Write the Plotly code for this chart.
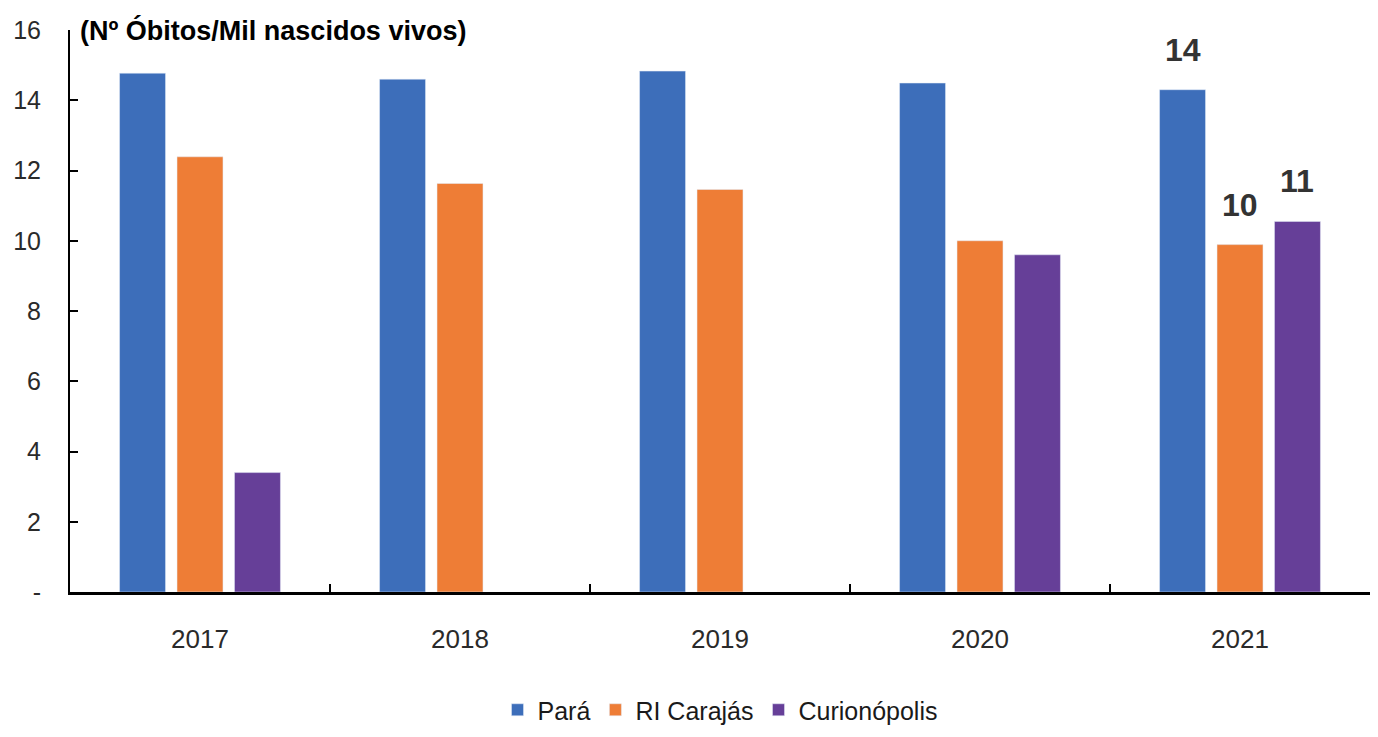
import plotly.graph_objects as go

anos = ["2017", "2018", "2019", "2020", "2021"]
para = [14.77, 14.6, 14.83, 14.49, 14.3]
carajas = [12.39, 11.63, 11.46, 10.0, 9.89]
curionopolis = [3.4, None, None, 9.6, 10.55]

cores = {"Pará": "#3D6EBA", "RI Carajás": "#EE7D36", "Curionópolis": "#663F98"}
series = [("Pará", para), ("RI Carajás", carajas), ("Curionópolis", curionopolis)]
bargap = 0.337

fig = go.Figure()
for nome, vals in series:
    fig.add_trace(go.Bar(x=anos, y=vals, name=nome, marker_color=cores[nome]))

# rótulos só no último ano (2021), acima de cada barra do grupo
slot = (1 - bargap) / len(series)
ult = len(anos) - 1
for k, (nome, vals) in enumerate(series):
    fig.add_annotation(
        x=ult + (k - 1) * slot, y=vals[ult], xref="x", yref="y",
        text=f"<b>{vals[ult]:.0f}</b>", showarrow=False,
        yanchor="bottom", yshift=20,
        font=dict(family="Liberation Sans, Arial, sans-serif", size=32, color="#333333"),
    )

fig.add_annotation(
    text="<b>(Nº Óbitos/Mil nascidos vivos)</b>", xref="paper", yref="paper",
    x=0.006, y=1.0, xanchor="left", yanchor="middle", showarrow=False,
    font=dict(family="Liberation Sans Narrow, Arial Narrow, sans-serif", size=27, color="black"),
)

fig.update_layout(
    width=1378, height=737,
    margin=dict(l=62, r=16, t=22, b=139),
    plot_bgcolor="white", paper_bgcolor="white",
    barmode="group", bargap=bargap, bargroupgap=0.2,
    font=dict(family="Liberation Sans, Arial, sans-serif", size=22, color="#2a2a2a"),
    legend=dict(orientation="h", x=0.5, xanchor="center", y=-0.21, yanchor="middle",
                font=dict(size=25, color="#1a1a1a"), itemwidth=30, traceorder="normal"),
    showlegend=True,
)
fig.update_xaxes(
    showline=True, linecolor="black", linewidth=3, tickson="boundaries",
    ticks="inside", ticklen=8, tickwidth=2, tickcolor="black",
    ticklabelstandoff=22, showgrid=False, automargin=False,
    tickfont=dict(size=26, color="#2a2a2a"),
)
fig.update_yaxes(
    range=[0, 16], tickvals=[0, 2, 4, 6, 8, 10, 12, 14, 16],
    ticktext=["-", "2", "4", "6", "8", "10", "12", "14", "16"],
    showline=True, linecolor="black", linewidth=2, ticks="inside", ticklen=8,
    tickwidth=1.5, tickcolor="black", showgrid=False, zeroline=False,
    ticklabelstandoff=22, automargin=False,
    tickfont=dict(size=25, color="#2a2a2a"),
)

fig.write_html("out.html")
